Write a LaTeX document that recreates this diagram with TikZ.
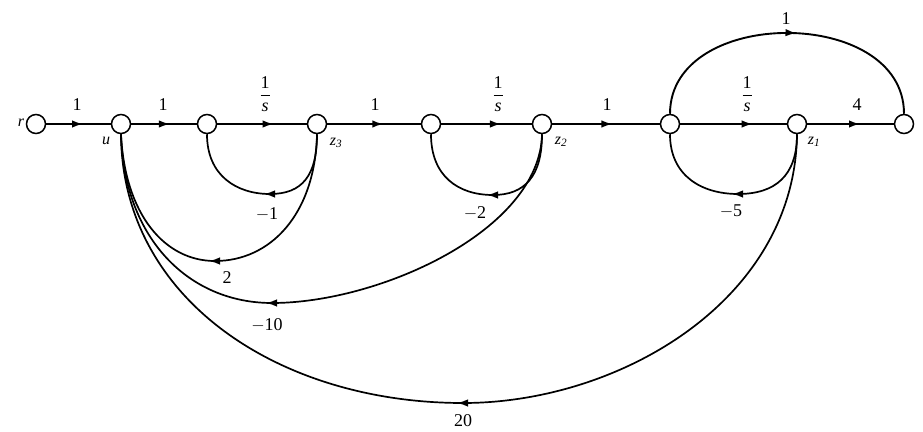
\documentclass[tikz,border=0pt]{standalone}
\usepackage{fontspec}
\setmainfont{Liberation Serif}
\usetikzlibrary{arrows.meta,decorations.markings,calc}
\begin{document}
\begin{tikzpicture}[x=1pt,y=-1pt,
  state/.style={circle,draw,line width=1.5pt,minimum size=19pt,inner sep=0pt,fill=white},
  gain/.style={font=\fontsize{18}{20}\selectfont,inner sep=0pt},
  nlab/.style={font=\fontsize{16}{18}\selectfont\itshape,inner sep=0pt},
  fwd/.style={line width=1.9pt,postaction={decorate},decoration={markings,mark=at position #1 with {\arrow{Latex[length=11pt,width=7.5pt]}}}},
  fwd/.default=0.6,
  fb/.style={line width=1.7pt},
  tipmark/.style={-{Latex[length=11pt,width=7.5pt]},line width=1.7pt}
]
\useasboundingbox (0,0) rectangle (923,431);
% states
\node[state] (r)  at (36,124) {};
\node[state] (u)  at (121,124) {};
\node[state] (n3) at (207,124) {};
\node[state] (z3) at (317,124) {};
\node[state] (n4) at (431,124) {};
\node[state] (z2) at (542,124) {};
\node[state] (n5) at (670,124) {};
\node[state] (z1) at (797,124) {};
\node[state] (y)  at (904,124) {};
% state labels
\node[nlab] (lr)  at (21,123) {r};
\node[nlab] (lu)  at (106,141) {u};
\node[nlab] (lz3) at (336,143) {z\textsubscript{3}};
\node[nlab] (lz2) at (561,142) {z\textsubscript{2}};
\node[nlab] (lz1) at (814,142) {z\textsubscript{1}};
% forward branches
\draw[fwd=0.57] (r) -- (u);
\draw[fwd=0.59] (u) -- (n3);
\draw[fwd=0.63] (n3) -- (z3);
\draw[fwd=0.6] (z3) -- (n4);
\draw[fwd=0.66] (n4) -- (z2);
\draw[fwd=0.56] (z2) -- (n5);
\draw[fwd=0.68] (n5) -- (z1);
\draw[fwd=0.61] (z1) -- (y);
\draw[fwd=0.53] (n5.north) .. controls (670,6) and (904,6) .. (y.north);
% forward gains
\node[gain] (g1) at (77,105) {1};
\node[gain] (g2) at (163,105) {1};
\node[gain] (g3) at (265,94) {$\displaystyle\frac{\mbox{1}}{\mbox{\itshape s}}$};
\node[gain] (g4) at (375,105) {1};
\node[gain] (g5) at (498,94) {$\displaystyle\frac{\mbox{1}}{\mbox{\itshape s}}$};
\node[gain] (g6) at (607,105) {1};
\node[gain] (g7) at (747,94) {$\displaystyle\frac{\mbox{1}}{\mbox{\itshape s}}$};
\node[gain] (g8) at (857,105) {4};
\node[gain] (g9) at (786,19) {1};
% self loops
\coordinate (b1) at (270,194);
\coordinate (b2) at (493,195);
\coordinate (b5) at (738,194);
\draw[fb] (z3.south) .. controls (317,176) and (302,194) .. (b1) .. controls (237,194) and (207,176) .. (n3.south);
\draw[fb] (z2.south) .. controls (542,176) and (525,195) .. (b2) .. controls (458,195) and (431,176) .. (n4.south);
\draw[fb] (z1.south) .. controls (797,176) and (775,194) .. (b5) .. controls (702,194) and (670,176) .. (n5.south);
\draw[tipmark] ($(b1)+(5,0)$) -- ($(b1)+(-6,0)$);
\draw[tipmark] ($(b2)+(5,0)$) -- ($(b2)+(-6,0)$);
\draw[tipmark] ($(b5)+(5,0)$) -- ($(b5)+(-6,0)$);
\node[gain] (gm1) at (267,214) {$-$1};
\node[gain] (gm2) at (475,213) {$-$2};
\node[gain] (gm5) at (731,211) {$-$5};
% feedback to u
\coordinate (c2) at (215,261);
\coordinate (c10) at (272,303);
\coordinate (c20) at (463,403);
\draw[fb] (z3.south) .. controls (315,215) and (270,261) .. (c2) .. controls (165,261) and (125,215) .. (u.south);
\draw[fb] (z2.south) .. controls (540,230) and (380,303) .. (c10) .. controls (190,303) and (124,240) .. (u.south);
\draw[fb] (z1.south) .. controls (795,300) and (620,403) .. (c20) .. controls (280,403) and (122,300) .. (u.south);
\draw[tipmark] ($(c2)+(5,0)$) -- ($(c2)+(-6,0)$);
\draw[tipmark] ($(c10)+(5,0)$) -- ($(c10)+(-6,0)$);
\draw[tipmark] ($(c20)+(5,0)$) -- ($(c20)+(-6,0)$);
\node[gain] (gp2) at (227,278) {2};
\node[gain] (gm10) at (267,325) {$-$10};
\node[gain] (gp20) at (463,421) {20};
\end{tikzpicture}
\end{document}
